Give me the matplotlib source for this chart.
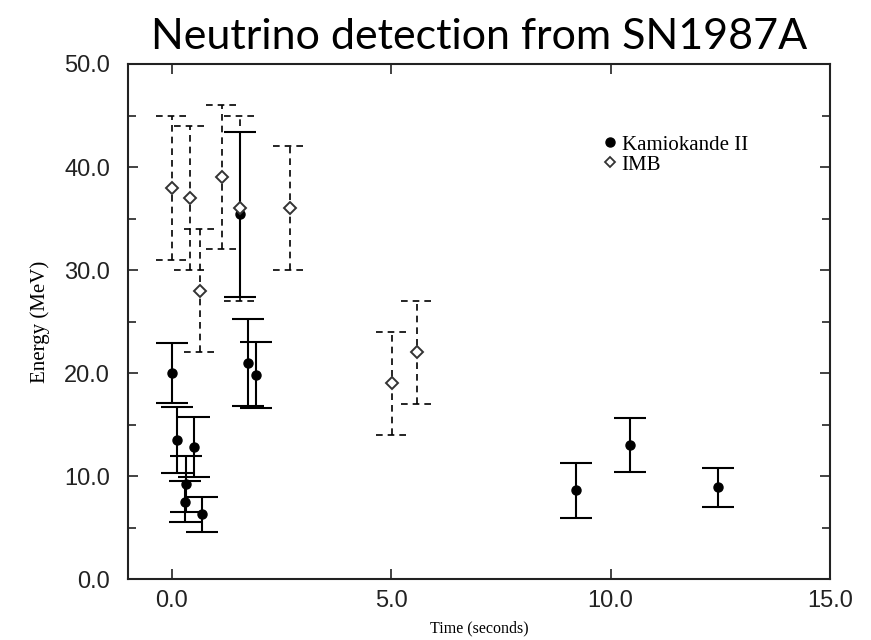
import matplotlib
matplotlib.use('Agg')
import matplotlib.pyplot as plt
from matplotlib.lines import Line2D
from matplotlib.ticker import MultipleLocator, FormatStrFormatter
import numpy as np

# Kamiokande II events: time (s), energy (MeV), error (MeV)
kam_t = [0.0, 0.107, 0.303, 0.324, 0.507, 0.686, 1.541, 1.728, 1.915, 9.219, 10.433, 12.439]
kam_e = [20.0, 13.5, 7.5, 9.2, 12.8, 6.3, 35.4, 21.0, 19.8, 8.6, 13.0, 8.9]
kam_err = [2.9, 3.2, 2.0, 2.7, 2.9, 1.7, 8.0, 4.2, 3.2, 2.7, 2.6, 1.9]

# IMB events
imb_t = [0.0, 0.412, 0.650, 1.141, 1.562, 2.684, 5.010, 5.582]
imb_e = [38.0, 37.0, 28.0, 39.0, 36.0, 36.0, 19.0, 22.0]
imb_err = [7.0, 7.0, 6.0, 7.0, 9.0, 6.0, 5.0, 5.0]

x_ticks = [0, 5, 10, 15]
y_ticks = [0, 10, 20, 30, 40, 50]

kam_t = np.array(kam_t); kam_e = np.array(kam_e); kam_err = np.array(kam_err)
imb_t = np.array(imb_t); imb_e = np.array(imb_e); imb_err = np.array(imb_err)

fig = plt.figure(figsize=(8.71, 6.4), dpi=100)
ax = fig.add_axes([0.147, 0.0953, 0.806, 0.8047])

dash = (0, (4, 3))
cap_w = 0.37  # half width of IMB caps, in seconds

# IMB: dashed bars with dashed caps
ax.errorbar(imb_t, imb_e, yerr=imb_err, fmt='none', ecolor='black',
            elinewidth=1.2, capsize=0, zorder=2)[2][0].set_linestyle(dash)
ax.hlines(imb_e + imb_err, imb_t - cap_w, imb_t + cap_w, colors='black',
          linewidth=1.2, linestyles=dash, zorder=2)
ax.hlines(imb_e - imb_err, imb_t - cap_w, imb_t + cap_w, colors='black',
          linewidth=1.2, linestyles=dash, zorder=2)
ax.plot(imb_t, imb_e, linestyle='none', marker='D', markersize=6.5,
        markerfacecolor='white', markeredgecolor='#333333', markeredgewidth=1.4, zorder=4)

# Kamiokande II: solid bars
ax.errorbar(kam_t, kam_e, yerr=kam_err, fmt='o', color='black', markersize=6.5,
            elinewidth=1.5, capsize=11.5, capthick=1.5, zorder=3)

ax.set_xlim(-1, 15)
ax.set_ylim(0, 50)
ax.set_xticks(x_ticks)
ax.set_yticks(y_ticks)
ax.yaxis.set_minor_locator(MultipleLocator(5))
ax.xaxis.set_major_formatter(FormatStrFormatter('%.1f'))
ax.yaxis.set_major_formatter(FormatStrFormatter('%.1f'))
ax.tick_params(which='both', direction='in', top=True, right=True,
               colors='#222222', labelsize=17, width=1.2)
ax.tick_params(which='major', length=7)
ax.tick_params(which='minor', length=6)
ax.tick_params(axis='y', pad=13)
ax.tick_params(axis='x', pad=8)
for lab in ax.get_xticklabels() + ax.get_yticklabels():
    lab.set_family('Liberation Sans')
for sp in ax.spines.values():
    sp.set_linewidth(1.5)
    sp.set_color('#222222')

ax.set_xlabel('Time (seconds)', family='Liberation Serif', fontsize=11.5, labelpad=6)
ax.set_ylabel('Energy (MeV)', family='Liberation Serif', fontsize=15, labelpad=10)
ax.set_title('Neutrino detection from SN1987A', family='Lato', fontsize=31, pad=11)

handles = [
    Line2D([], [], linestyle='none', marker='o', color='black', markersize=6.5),
    Line2D([], [], linestyle='none', marker='D', markersize=5.5, markerfacecolor='white',
           markeredgecolor='#333333', markeredgewidth=1.3),
]
ax.legend(handles, ['Kamiokande II', 'IMB'], loc='upper left', bbox_to_anchor=(0.675, 0.862),
          frameon=False, prop={'family': 'Liberation Serif', 'size': 15},
          handlelength=0.8, handletextpad=0.15, labelspacing=0.02,
          borderaxespad=0, borderpad=0)

fig.savefig('out.png', dpi=100)
